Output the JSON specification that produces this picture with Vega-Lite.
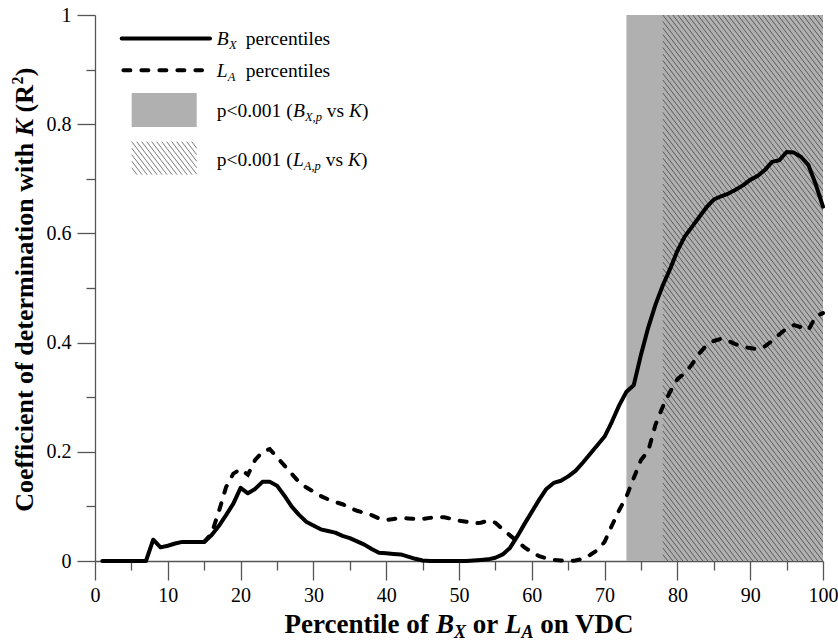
{
  "$schema": "https://vega.github.io/schema/vega-lite/v6.json",
  "width": 728,
  "height": 546,
  "autosize": {"type": "none"},
  "padding": {"left": 95, "top": 15, "right": 15, "bottom": 82},
  "background": "white",
  "config": {
    "view": {"stroke": null},
    "font": "'Liberation Serif', 'Times New Roman', Times, serif",
    "text": {"font": "'Liberation Serif', 'Times New Roman', Times, serif", "align": "left", "baseline": "alphabetic", "color": "black"}
  },
  "datasets": {
    "curves": [
      {"percentile": 1, "bx": 0, "la": null},
      {"percentile": 2, "bx": 0, "la": null},
      {"percentile": 3, "bx": 0, "la": null},
      {"percentile": 4, "bx": 0, "la": null},
      {"percentile": 5, "bx": 0, "la": null},
      {"percentile": 6, "bx": 0, "la": null},
      {"percentile": 7, "bx": 0, "la": null},
      {"percentile": 8, "bx": 0.039, "la": null},
      {"percentile": 9, "bx": 0.025, "la": null},
      {"percentile": 10, "bx": 0.028, "la": null},
      {"percentile": 11, "bx": 0.032, "la": null},
      {"percentile": 12, "bx": 0.035, "la": null},
      {"percentile": 13, "bx": 0.035, "la": null},
      {"percentile": 14, "bx": 0.035, "la": null},
      {"percentile": 15, "bx": 0.035, "la": 0.035},
      {"percentile": 16, "bx": 0.047, "la": 0.05},
      {"percentile": 17, "bx": 0.064, "la": 0.09},
      {"percentile": 18, "bx": 0.084, "la": 0.135},
      {"percentile": 19, "bx": 0.105, "la": 0.16},
      {"percentile": 20, "bx": 0.134, "la": 0.168},
      {"percentile": 21, "bx": 0.124, "la": 0.158},
      {"percentile": 22, "bx": 0.132, "la": 0.185},
      {"percentile": 23, "bx": 0.145, "la": 0.2},
      {"percentile": 24, "bx": 0.145, "la": 0.205},
      {"percentile": 25, "bx": 0.138, "la": 0.19},
      {"percentile": 26, "bx": 0.12, "la": 0.175},
      {"percentile": 27, "bx": 0.1, "la": 0.16},
      {"percentile": 28, "bx": 0.085, "la": 0.145},
      {"percentile": 29, "bx": 0.072, "la": 0.135},
      {"percentile": 30, "bx": 0.065, "la": 0.127},
      {"percentile": 31, "bx": 0.058, "la": 0.119},
      {"percentile": 32, "bx": 0.055, "la": 0.113},
      {"percentile": 33, "bx": 0.052, "la": 0.108},
      {"percentile": 34, "bx": 0.046, "la": 0.104},
      {"percentile": 35, "bx": 0.042, "la": 0.097},
      {"percentile": 36, "bx": 0.036, "la": 0.092},
      {"percentile": 37, "bx": 0.03, "la": 0.088},
      {"percentile": 38, "bx": 0.022, "la": 0.084},
      {"percentile": 39, "bx": 0.015, "la": 0.078},
      {"percentile": 40, "bx": 0.014, "la": 0.075},
      {"percentile": 41, "bx": 0.013, "la": 0.077},
      {"percentile": 42, "bx": 0.012, "la": 0.079},
      {"percentile": 43, "bx": 0.008, "la": 0.078},
      {"percentile": 44, "bx": 0.004, "la": 0.077},
      {"percentile": 45, "bx": 0.001, "la": 0.077},
      {"percentile": 46, "bx": 0, "la": 0.079},
      {"percentile": 47, "bx": 0, "la": 0.081},
      {"percentile": 48, "bx": 0, "la": 0.08},
      {"percentile": 49, "bx": 0, "la": 0.077},
      {"percentile": 50, "bx": 0, "la": 0.074},
      {"percentile": 51, "bx": 0, "la": 0.072},
      {"percentile": 52, "bx": 0.001, "la": 0.069},
      {"percentile": 53, "bx": 0.002, "la": 0.07},
      {"percentile": 54, "bx": 0.003, "la": 0.074},
      {"percentile": 55, "bx": 0.006, "la": 0.07},
      {"percentile": 56, "bx": 0.012, "la": 0.058},
      {"percentile": 57, "bx": 0.024, "la": 0.047},
      {"percentile": 58, "bx": 0.045, "la": 0.036},
      {"percentile": 59, "bx": 0.068, "la": 0.025},
      {"percentile": 60, "bx": 0.09, "la": 0.016},
      {"percentile": 61, "bx": 0.112, "la": 0.009},
      {"percentile": 62, "bx": 0.132, "la": 0.005},
      {"percentile": 63, "bx": 0.143, "la": 0.002},
      {"percentile": 64, "bx": 0.147, "la": 0.001},
      {"percentile": 65, "bx": 0.155, "la": 0},
      {"percentile": 66, "bx": 0.165, "la": 0.001},
      {"percentile": 67, "bx": 0.18, "la": 0.004},
      {"percentile": 68, "bx": 0.196, "la": 0.011},
      {"percentile": 69, "bx": 0.212, "la": 0.02},
      {"percentile": 70, "bx": 0.228, "la": 0.035},
      {"percentile": 71, "bx": 0.255, "la": 0.065},
      {"percentile": 72, "bx": 0.285, "la": 0.093},
      {"percentile": 73, "bx": 0.31, "la": 0.118},
      {"percentile": 74, "bx": 0.322, "la": 0.152},
      {"percentile": 75, "bx": 0.378, "la": 0.185},
      {"percentile": 76, "bx": 0.428, "la": 0.202},
      {"percentile": 77, "bx": 0.47, "la": 0.25},
      {"percentile": 78, "bx": 0.505, "la": 0.283},
      {"percentile": 79, "bx": 0.535, "la": 0.31},
      {"percentile": 80, "bx": 0.568, "la": 0.333},
      {"percentile": 81, "bx": 0.594, "la": 0.344},
      {"percentile": 82, "bx": 0.612, "la": 0.36},
      {"percentile": 83, "bx": 0.63, "la": 0.38},
      {"percentile": 84, "bx": 0.648, "la": 0.395},
      {"percentile": 85, "bx": 0.662, "la": 0.403},
      {"percentile": 86, "bx": 0.668, "la": 0.407},
      {"percentile": 87, "bx": 0.673, "la": 0.403},
      {"percentile": 88, "bx": 0.68, "la": 0.397},
      {"percentile": 89, "bx": 0.688, "la": 0.392},
      {"percentile": 90, "bx": 0.698, "la": 0.39},
      {"percentile": 91, "bx": 0.705, "la": 0.388},
      {"percentile": 92, "bx": 0.716, "la": 0.393},
      {"percentile": 93, "bx": 0.731, "la": 0.403},
      {"percentile": 94, "bx": 0.734, "la": 0.415},
      {"percentile": 95, "bx": 0.749, "la": 0.426},
      {"percentile": 96, "bx": 0.748, "la": 0.432},
      {"percentile": 97, "bx": 0.74, "la": 0.428},
      {"percentile": 98, "bx": 0.725, "la": 0.423},
      {"percentile": 99, "bx": 0.69, "la": 0.448},
      {"percentile": 100, "bx": 0.649, "la": 0.454}
    ],
    "regions": [
      {"test": "B_X,p vs K", "from": 73, "to": 100},
      {"test": "L_A,p vs K", "from": 78, "to": 100}
    ]
  },
  "data": {"values": [{}]},
  "resolve": {"axis": {"x": "independent", "y": "independent"}},
  "layer": [
    {
      "layer": [
        {
          "data": {"name": "regions"},
          "transform": [{"filter": "datum.test === 'B_X,p vs K'"}],
          "mark": {"type": "rect", "color": "#b0b0b0"},
          "encoding": {
            "x": {
              "field": "from", "type": "quantitative",
              "scale": {"domain": [0, 100], "nice": false, "zero": false},
              "axis": {
                "title": null, "orient": "bottom", "grid": false,
                "values": [0, 10, 20, 30, 40, 50, 60, 70, 80, 90, 100],
                "tickSize": 19, "tickColor": "#555", "tickWidth": 1.3,
                "domainColor": "#555", "domainWidth": 1.3,
                "labelFont": "'Liberation Serif', 'Times New Roman', Times, serif", "labelFontSize": 20, "labelColor": "black",
                "labelPadding": 5, "labelFlush": false, "labelOverlap": false
              }
            },
            "x2": {"field": "to"},
            "y": {
              "datum": 0, "type": "quantitative",
              "scale": {"domain": [0, 1], "nice": false, "zero": false},
              "axis": {
                "title": null, "orient": "left", "grid": false,
                "values": [0, 0.2, 0.4, 0.6, 0.8, 1], "format": "~g",
                "tickSize": 18, "tickColor": "#555", "tickWidth": 1.3,
                "domainColor": "#555", "domainWidth": 1.3,
                "labelFont": "'Liberation Serif', 'Times New Roman', Times, serif", "labelFontSize": 20, "labelColor": "black",
                "labelPadding": 6, "labelFlush": false, "labelOverlap": false
              }
            },
            "y2": {"datum": 1}
          }
        },
        {
          "data": {"name": "regions"},
          "transform": [{"filter": "datum.test === 'L_A,p vs K'"}],
          "mark": {
            "type": "point", "clip": true, "filled": false, "opacity": 1, "size": 4,
            "stroke": "#5c5c5c", "strokeWidth": 1,
            "shape": "M0 0l200 260m-195 -260l200 260m-195 -260l200 260m-195 -260l200 260m-195 -260l200 260m-195 -260l200 260m-195 -260l200 260m-195 -260l200 260m-195 -260l200 260m-195 -260l200 260m-195 -260l200 260m-195 -260l200 260m-195 -260l200 260m-195 -260l200 260m-195 -260l200 260m-195 -260l200 260m-195 -260l200 260m-195 -260l200 260m-195 -260l200 260m-195 -260l200 260m-195 -260l200 260m-195 -260l200 260m-195 -260l200 260m-195 -260l200 260m-195 -260l200 260m-195 -260l200 260m-195 -260l200 260m-195 -260l200 260m-195 -260l200 260m-195 -260l200 260m-195 -260l200 260m-195 -260l200 260m-195 -260l200 260M0 6.5l200 260m-200 -253.5l200 260m-200 -253.5l200 260m-200 -253.5l200 260m-200 -253.5l200 260m-200 -253.5l200 260m-200 -253.5l200 260m-200 -253.5l200 260m-200 -253.5l200 260m-200 -253.5l200 260m-200 -253.5l200 260m-200 -253.5l200 260m-200 -253.5l200 260m-200 -253.5l200 260m-200 -253.5l200 260m-200 -253.5l200 260m-200 -253.5l200 260m-200 -253.5l200 260m-200 -253.5l200 260m-200 -253.5l200 260m-200 -253.5l200 260m-200 -253.5l200 260m-200 -253.5l200 260m-200 -253.5l200 260m-200 -253.5l200 260m-200 -253.5l200 260m-200 -253.5l200 260m-200 -253.5l200 260m-200 -253.5l200 260m-200 -253.5l200 260m-200 -253.5l200 260m-200 -253.5l200 260m-200 -253.5l200 260m-200 -253.5l200 260m-200 -253.5l200 260m-200 -253.5l200 260m-200 -253.5l200 260m-200 -253.5l200 260m-200 -253.5l200 260m-200 -253.5l200 260m-200 -253.5l200 260m-200 -253.5l200 260m-200 -253.5l200 260m-200 -253.5l200 260m-200 -253.5l200 260m-200 -253.5l200 260m-200 -253.5l200 260m-200 -253.5l200 260m-200 -253.5l200 260m-200 -253.5l200 260m-200 -253.5l200 260m-200 -253.5l200 260m-200 -253.5l200 260m-200 -253.5l200 260m-200 -253.5l200 260m-200 -253.5l200 260m-200 -253.5l200 260m-200 -253.5l200 260m-200 -253.5l200 260m-200 -253.5l200 260m-200 -253.5l200 260m-200 -253.5l200 260m-200 -253.5l200 260m-200 -253.5l200 260m-200 -253.5l200 260m-200 -253.5l200 260m-200 -253.5l200 260m-200 -253.5l200 260m-200 -253.5l200 260m-200 -253.5l200 260m-200 -253.5l200 260m-200 -253.5l200 260m-200 -253.5l200 260m-200 -253.5l200 260m-200 -253.5l200 260m-200 -253.5l200 260m-200 -253.5l200 260m-200 -253.5l200 260m-200 -253.5l200 260m-200 -253.5l200 260m-200 -253.5l200 260m-200 -253.5l200 260m-200 -253.5l200 260m-200 -253.5l200 260m-200 -253.5l200 260m-200 -253.5l200 260m-200 -253.5l200 260m-200 -253.5l200 260m-200 -253.5l200 260m-200 -253.5l200 260"
          },
          "encoding": {
            "x": {"field": "from", "type": "quantitative"},
            "y": {"datum": 1}
          }
        },
        {
          "data": {"name": "curves"},
          "mark": {"type": "line", "color": "black", "strokeWidth": 4, "strokeJoin": "round", "strokeCap": "round"},
          "encoding": {
            "x": {"field": "percentile", "type": "quantitative"},
            "y": {"field": "bx", "type": "quantitative"}
          }
        },
        {
          "mark": {"type": "rule", "color": "black", "strokeWidth": 4, "strokeCap": "round"},
          "encoding": {"x": {"datum": 3.67}, "x2": {"datum": 15.8}, "y": {"datum": 0.957}}
        },
        {
          "mark": {"type": "rule", "color": "black", "strokeWidth": 4, "strokeCap": "round", "strokeDash": [7, 11]},
          "encoding": {"x": {"datum": 3.9}, "x2": {"datum": 14.7}, "y": {"datum": 0.899}}
        },
        {
          "mark": {"type": "rect", "color": "#b0b0b0"},
          "encoding": {"x": {"datum": 5.04}, "x2": {"datum": 13.97}, "y": {"datum": 0.857}, "y2": {"datum": 0.795}}
        },
        {
          "mark": {
            "type": "point", "filled": false, "opacity": 1, "size": 4,
            "stroke": "#7a7a7a", "strokeWidth": 1,
            "shape": "M0 26L5.4 33M0 19.5L10.4 33M0 13L15.4 33M0 6.5L20.4 33M0 0L25.4 33M5 0L30.4 33M10 0L35.4 33M15 0L40.4 33M20 0L45.4 33M25 0L50.4 33M30 0L55.4 33M35 0L60.4 33M40 0L65 32.5M45 0L65 26M50 0L65 19.5M55 0L65 13M60 0L65 6.5"
          },
          "encoding": {"x": {"datum": 5.04}, "y": {"datum": 0.768}}
        },
        {"mark": {"type": "text", "text": "B", "fontSize": 19.5, "fontStyle": "italic"}, "encoding": {"x": {"datum": 16.72}, "y": {"datum": 0.945}}},
        {"mark": {"type": "text", "text": "X", "fontSize": 12.5, "fontStyle": "italic", "dx": 12.2, "dy": 4}, "encoding": {"x": {"datum": 16.72}, "y": {"datum": 0.945}}},
        {"mark": {"type": "text", "text": "percentiles", "fontSize": 19.5, "dx": 29}, "encoding": {"x": {"datum": 16.72}, "y": {"datum": 0.945}}},
        {"mark": {"type": "text", "text": "L", "fontSize": 19.5, "fontStyle": "italic"}, "encoding": {"x": {"datum": 16.72}, "y": {"datum": 0.887}}},
        {"mark": {"type": "text", "text": "A", "fontSize": 12.5, "fontStyle": "italic", "dx": 11, "dy": 4}, "encoding": {"x": {"datum": 16.72}, "y": {"datum": 0.887}}},
        {"mark": {"type": "text", "text": "percentiles", "fontSize": 19.5, "dx": 29}, "encoding": {"x": {"datum": 16.72}, "y": {"datum": 0.887}}},
        {"mark": {"type": "text", "text": "p<0.001 (", "fontSize": 19.5}, "encoding": {"x": {"datum": 16.72}, "y": {"datum": 0.814}}},
        {"mark": {"type": "text", "text": "B", "fontSize": 19.5, "fontStyle": "italic", "dx": 76.3}, "encoding": {"x": {"datum": 16.72}, "y": {"datum": 0.814}}},
        {"mark": {"type": "text", "text": "X,p", "fontSize": 12.5, "fontStyle": "italic", "dx": 88.2, "dy": 4}, "encoding": {"x": {"datum": 16.72}, "y": {"datum": 0.814}}},
        {"mark": {"type": "text", "text": "vs", "fontSize": 19.5, "dx": 110}, "encoding": {"x": {"datum": 16.72}, "y": {"datum": 0.814}}},
        {"mark": {"type": "text", "text": "K", "fontSize": 19.5, "fontStyle": "italic", "dx": 132.2}, "encoding": {"x": {"datum": 16.72}, "y": {"datum": 0.814}}},
        {"mark": {"type": "text", "text": ")", "fontSize": 19.5, "dx": 145.3}, "encoding": {"x": {"datum": 16.72}, "y": {"datum": 0.814}}},
        {"mark": {"type": "text", "text": "p<0.001 (", "fontSize": 19.5}, "encoding": {"x": {"datum": 16.72}, "y": {"datum": 0.724}}},
        {"mark": {"type": "text", "text": "L", "fontSize": 19.5, "fontStyle": "italic", "dx": 76.3}, "encoding": {"x": {"datum": 16.72}, "y": {"datum": 0.724}}},
        {"mark": {"type": "text", "text": "A,p", "fontSize": 12.5, "fontStyle": "italic", "dx": 87.1, "dy": 4}, "encoding": {"x": {"datum": 16.72}, "y": {"datum": 0.724}}},
        {"mark": {"type": "text", "text": "vs", "fontSize": 19.5, "dx": 109}, "encoding": {"x": {"datum": 16.72}, "y": {"datum": 0.724}}},
        {"mark": {"type": "text", "text": "K", "fontSize": 19.5, "fontStyle": "italic", "dx": 131.2}, "encoding": {"x": {"datum": 16.72}, "y": {"datum": 0.724}}},
        {"mark": {"type": "text", "text": ")", "fontSize": 19.5, "dx": 144.2}, "encoding": {"x": {"datum": 16.72}, "y": {"datum": 0.724}}},
        {"mark": {"type": "text", "text": "Percentile of", "fontSize": 27, "fontWeight": "bold"}, "encoding": {"x": {"datum": 26.04}, "y": {"datum": -0.1315}}},
        {"mark": {"type": "text", "text": "B", "fontSize": 27, "fontWeight": "bold", "fontStyle": "italic", "dx": 151.4}, "encoding": {"x": {"datum": 26.04}, "y": {"datum": -0.1315}}},
        {"mark": {"type": "text", "text": "X", "fontSize": 18, "fontWeight": "bold", "fontStyle": "italic", "dx": 169.4, "dy": 5}, "encoding": {"x": {"datum": 26.04}, "y": {"datum": -0.1315}}},
        {"mark": {"type": "text", "text": "or", "fontSize": 27, "fontWeight": "bold", "dx": 188.2}, "encoding": {"x": {"datum": 26.04}, "y": {"datum": -0.1315}}},
        {"mark": {"type": "text", "text": "L", "fontSize": 27, "fontWeight": "bold", "fontStyle": "italic", "dx": 220.4}, "encoding": {"x": {"datum": 26.04}, "y": {"datum": -0.1315}}},
        {"mark": {"type": "text", "text": "A", "fontSize": 18, "fontWeight": "bold", "fontStyle": "italic", "dx": 236.9, "dy": 5}, "encoding": {"x": {"datum": 26.04}, "y": {"datum": -0.1315}}},
        {"mark": {"type": "text", "text": "on VDC", "fontSize": 27, "fontWeight": "bold", "dx": 255.7}, "encoding": {"x": {"datum": 26.04}, "y": {"datum": -0.1315}}},
        {"mark": {"type": "text", "text": "Coefficient of determination with", "fontSize": 26, "fontWeight": "bold", "angle": 270}, "encoding": {"x": {"datum": -8.52}, "y": {"datum": 0.0903}}},
        {"mark": {"type": "text", "text": "K", "fontSize": 26, "fontWeight": "bold", "fontStyle": "italic", "angle": 270, "dx": 375.5}, "encoding": {"x": {"datum": -8.52}, "y": {"datum": 0.0903}}},
        {"mark": {"type": "text", "text": "(R", "fontSize": 26, "fontWeight": "bold", "angle": 270, "dx": 399.3}, "encoding": {"x": {"datum": -8.52}, "y": {"datum": 0.0903}}},
        {"mark": {"type": "text", "text": "2", "fontSize": 16, "fontWeight": "bold", "angle": 270, "dx": 427.2, "dy": -10}, "encoding": {"x": {"datum": -8.52}, "y": {"datum": 0.0903}}},
        {"mark": {"type": "text", "text": ")", "fontSize": 26, "fontWeight": "bold", "angle": 270, "dx": 435.5}, "encoding": {"x": {"datum": -8.52}, "y": {"datum": 0.0903}}}
      ]
    },
    {
      "data": {"name": "curves"},
      "mark": {"type": "line", "color": "black", "strokeWidth": 4, "strokeCap": "round", "strokeDash": [7, 11]},
      "encoding": {
        "x": {
          "field": "percentile", "type": "quantitative",
          "axis": {
            "title": null, "orient": "bottom", "grid": false, "labels": false, "domain": false,
            "values": [5, 15, 25, 35, 45, 55, 65, 75, 85, 95],
            "tickSize": 9, "tickColor": "#555", "tickWidth": 1.3
          }
        },
        "y": {
          "field": "la", "type": "quantitative",
          "axis": {
            "title": null, "orient": "left", "grid": false, "labels": false, "domain": false,
            "values": [0.1, 0.3, 0.5, 0.7, 0.9],
            "tickSize": 9, "tickColor": "#555", "tickWidth": 1.3
          }
        }
      }
    }
  ]
}
